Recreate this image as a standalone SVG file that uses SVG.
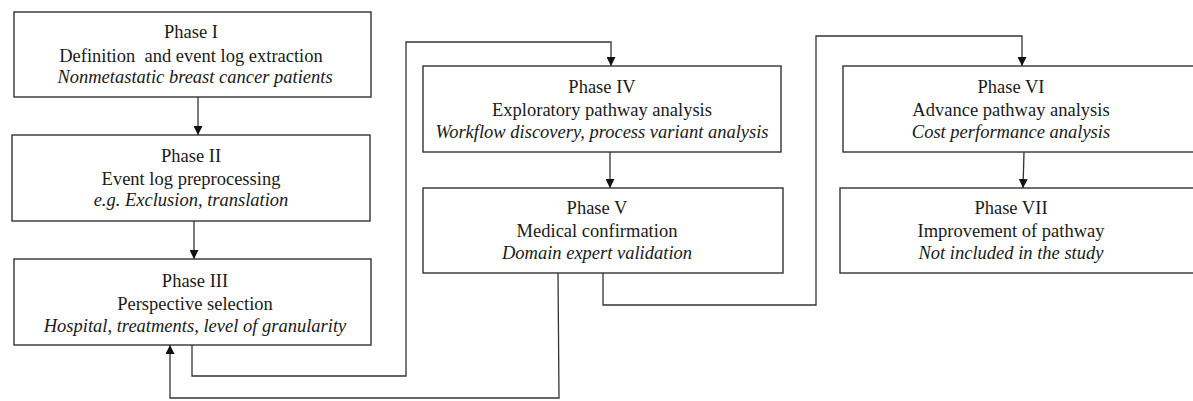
<svg xmlns="http://www.w3.org/2000/svg" width="1193" height="401" viewBox="0 0 1193 401">
<defs>
<marker id="arr" viewBox="0 0 10 10" refX="10" refY="5" markerWidth="9" markerHeight="9" markerUnits="userSpaceOnUse" orient="auto">
<path d="M0,0 L10,5 L0,10 Z" fill="#111"/>
</marker>
<style>
.box{fill:#fff;stroke:#333;stroke-width:1.4}
.t{font-family:"Liberation Serif","Times New Roman",serif;font-size:18.5px;fill:#1a1a1a;text-anchor:middle}
.i{font-style:italic}
.c{fill:none;stroke:#333;stroke-width:1.3}
</style>
</defs>
<rect width="1193" height="401" fill="#fff"/>
<g id="connectors">
<path class="c" d="M198,97 L198,135" marker-end="url(#arr)"/>
<path class="c" d="M194,221 L194,259" marker-end="url(#arr)"/>
<path class="c" d="M192,345 L192,376 L406,376 L406,42 L611,42 L611,66" marker-end="url(#arr)"/>
<path class="c" d="M610,152 L610,188" marker-end="url(#arr)"/>
<path class="c" d="M603,273 L603,305 L816,305 L816,36 L1022,36 L1022,66" marker-end="url(#arr)"/>
<path class="c" d="M558,273 L559,398 L170,398 L170,345" marker-end="url(#arr)"/>
<path class="c" d="M1024,152 L1023,188" marker-end="url(#arr)"/>
</g>
<g id="phase1">
<rect class="box" x="14" y="12" width="357" height="85"/>
<text class="t" x="191" y="38">Phase I</text>
<text class="t" x="191" y="62">Definition&#160; and event log extraction</text>
<text class="t i" x="195" y="83">Nonmetastatic breast cancer patients</text>
</g>
<g id="phase2">
<rect class="box" x="12" y="135" width="358" height="86"/>
<text class="t" x="191" y="162">Phase II</text>
<text class="t" x="191" y="185">Event log preprocessing</text>
<text class="t i" x="191" y="206">e.g. Exclusion, translation</text>
</g>
<g id="phase3">
<rect class="box" x="14" y="259" width="357" height="86"/>
<text class="t" x="195" y="287">Phase III</text>
<text class="t" x="195" y="310">Perspective selection</text>
<text class="t i" x="195" y="332">Hospital, treatments, level of granularity</text>
</g>
<g id="phase4">
<rect class="box" x="423" y="66" width="358" height="86"/>
<text class="t" x="602" y="93">Phase IV</text>
<text class="t" x="602" y="116">Exploratory pathway analysis</text>
<text class="t i" x="602" y="138">Workflow discovery, process variant analysis</text>
</g>
<g id="phase5">
<rect class="box" x="423" y="188" width="360" height="85"/>
<text class="t" x="597" y="214">Phase V</text>
<text class="t" x="597" y="237">Medical confirmation</text>
<text class="t i" x="597" y="259">Domain expert validation</text>
</g>
<g id="phase6">
<rect class="box" x="843" y="66" width="352" height="86"/>
<text class="t" x="1011" y="93">Phase VI</text>
<text class="t" x="1011" y="116">Advance pathway analysis</text>
<text class="t i" x="1011" y="138">Cost performance analysis</text>
</g>
<g id="phase7">
<rect class="box" x="840" y="188" width="355" height="85"/>
<text class="t" x="1011" y="214">Phase VII</text>
<text class="t" x="1011" y="237">Improvement of pathway</text>
<text class="t i" x="1011" y="259">Not included in the study</text>
</g>
</svg>
